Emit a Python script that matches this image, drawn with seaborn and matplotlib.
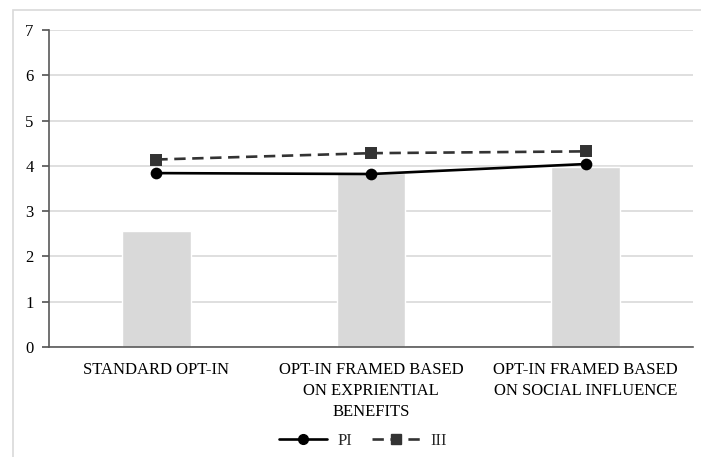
import matplotlib
matplotlib.use("Agg")
import matplotlib.pyplot as plt
from matplotlib.lines import Line2D
from matplotlib.patches import Rectangle
import seaborn as sns
import pandas as pd

# values
categories = [
    "STANDARD OPT-IN",
    "OPT-IN FRAMED BASED\nON EXPRIENTIAL\nBENEFITS",
    "OPT-IN FRAMED BASED\nON SOCIAL INFLUENCE",
]
bar_values = [2.56, 3.84, 3.98]
pi_values = [3.84, 3.82, 4.04]
iii_values = [4.14, 4.28, 4.32]
y_ticks = [0, 1, 2, 3, 4, 5, 6, 7]

df = pd.DataFrame({"cat": categories, "bar": bar_values, "PI": pi_values, "III": iii_values})

sns.set_theme(style="white")
plt.rcParams["font.family"] = ["Liberation Serif", "DejaVu Serif"]

fig = plt.figure(figsize=(7.01, 4.57), dpi=100)
ax = fig.add_axes([49 / 701, 1 - 347 / 457, 644 / 701, 317 / 457])

# light frame around the chart area
fig.patches.append(Rectangle((13 / 701, -0.1), 1.2, 1 - 10 / 457 + 0.1,
                             transform=fig.transFigure, fill=False,
                             edgecolor="#d9d9d9", linewidth=1.2))

dash = (0, (4.3, 2.5))

sns.barplot(data=df, x="cat", y="bar", color="#d9d9d9", width=0.32,
            saturation=1, ax=ax, zorder=2)
sns.pointplot(data=df, x="cat", y="PI", color="black", marker="o",
              linestyle="-", markersize=7, linewidth=1.9, ax=ax, zorder=4)
sns.pointplot(data=df, x="cat", y="III", color="#333333", marker="s",
              linestyle=dash, markersize=7, linewidth=1.9, ax=ax, zorder=3)

ax.set_xlim(-0.5, 2.5)
ax.set_ylim(0, 7)
ax.set_yticks(y_ticks)
ax.yaxis.grid(True, color="#d9d9d9", linewidth=1.2, zorder=0)
ax.set_axisbelow(True)
ax.set_xlabel("")
ax.set_ylabel("")

for side in ["top", "right"]:
    ax.spines[side].set_visible(False)
for side in ["left", "bottom"]:
    ax.spines[side].set_color("#595959")
    ax.spines[side].set_linewidth(1.2)

ax.tick_params(axis="y", which="both", left=True, length=5, color="#595959",
               labelsize=12, pad=6, labelcolor="black")
ax.tick_params(axis="x", which="both", bottom=False, labelsize=12, pad=5,
               labelcolor="black")
for lbl in ax.get_xticklabels():
    lbl.set_linespacing(1.4)
    lbl.set_verticalalignment("top")

handles = [
    Line2D([], [], color="black", marker="o", linestyle="-", linewidth=1.9, markersize=7),
    Line2D([], [], color="#333333", marker="s", linestyle=dash, linewidth=1.9, markersize=7),
]
fig.legend(handles, ["PI", "III"], loc="center", bbox_to_anchor=(363 / 701, 1 - 441 / 457),
           ncol=2, frameon=False, fontsize=12, handlelength=2.9, columnspacing=1.2,
           handletextpad=0.6)

fig.savefig("out.png", dpi=100)
